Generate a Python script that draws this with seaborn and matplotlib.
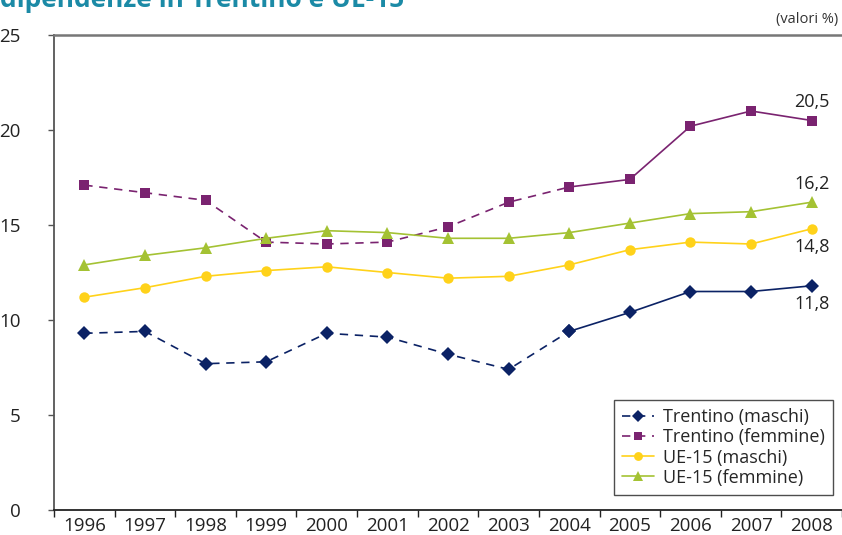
import numpy as np
import pandas as pd
import matplotlib
matplotlib.use("Agg")
import matplotlib.pyplot as plt
import seaborn as sns

years = [1996, 1997, 1998, 1999, 2000, 2001, 2002, 2003, 2004, 2005, 2006, 2007, 2008]
trentino_maschi = [9.3, 9.4, 7.7, 7.8, 9.3, 9.1, 8.2, 7.4, 9.4, 10.4, 11.5, 11.5, 11.8]
trentino_femmine = [17.1, 16.7, 16.3, 14.1, 14.0, 14.1, 14.9, 16.2, 17.0, 17.4, 20.2, 21.0, 20.5]
ue_maschi = [11.2, 11.7, 12.3, 12.6, 12.8, 12.5, 12.2, 12.3, 12.9, 13.7, 14.1, 14.0, 14.8]
ue_femmine = [12.9, 13.4, 13.8, 14.3, 14.7, 14.6, 14.3, 14.3, 14.6, 15.1, 15.6, 15.7, 16.2]
end_labels = ["11,8", "20,5", "14,8", "16,2"]
y_ticks = [0, 5, 10, 15, 20, 25]

sns.set_theme(style="white")
plt.rcParams["font.family"] = ["Open Sans", "DejaVu Sans"]

series = [
    ("Trentino (maschi)", trentino_maschi, "#0B2265", "D", 7, True),
    ("Trentino (femmine)", trentino_femmine, "#7A2370", "s", 7.5, True),
    ("UE-15 (maschi)", ue_maschi, "#FFD21A", "o", 7.5, False),
    ("UE-15 (femmine)", ue_femmine, "#A4C233", "^", 9, False),
]
label_offsets = [-13, 13, -13, 13]

fig = plt.figure(figsize=(8.42, 5.35), dpi=100)
ax = fig.add_axes([54 / 842, 25 / 535, 788 / 842, 475 / 535])

df = pd.DataFrame({"year": years})
split = years.index(2004)
handles = []
for (name, vals, color, marker, ms, dashed), lab, off in zip(series, end_labels, label_offsets):
    df[name] = vals
    if dashed:
        first = df.iloc[: split + 1]
        second = df.iloc[split:]
        sns.lineplot(data=first, x="year", y=name, ax=ax, color=color, marker=marker,
                     markersize=ms, markeredgewidth=0, linewidth=1.2,
                     dashes=False, linestyle=(0, (5, 4)))
        h = ax.lines[-1]
        sns.lineplot(data=second, x="year", y=name, ax=ax, color=color, marker=marker,
                     markersize=ms, markeredgewidth=0, linewidth=1.2)
    else:
        sns.lineplot(data=df, x="year", y=name, ax=ax, color=color, marker=marker,
                     markersize=ms, markeredgewidth=0, linewidth=1.2)
        h = ax.lines[-1]
    handles.append((h, name))
    ax.annotate(lab, (years[-1], vals[-1]), xytext=(0, off), textcoords="offset points",
                ha="center", va="center", fontsize=13, color="#222222")

ax.set_xlim(years[0] - 0.5, years[-1] + 0.5)
ax.set_ylim(0, 25)
ax.set_yticks(y_ticks)
ax.set_xticks(years)
ax.set_xticks(np.arange(years[0] - 0.5, years[-1] + 1, 1), minor=True)
ax.set_xlabel("")
ax.set_ylabel("")
ax.tick_params(axis="x", which="major", length=0, pad=5, labelsize=13.5, labelcolor="#222222")
ax.tick_params(axis="x", which="minor", length=5, direction="out", color="#222222", width=1, bottom=True)
ax.tick_params(axis="y", length=4, direction="out", color="#555555", width=1, left=True,
               pad=20, labelsize=13.5, labelcolor="#222222")

for side in ["left", "bottom", "top"]:
    ax.spines[side].set_visible(True)
ax.spines["left"].set_color("#555555")
ax.spines["left"].set_linewidth(1.3)
ax.spines["bottom"].set_color("#222222")
ax.spines["bottom"].set_linewidth(1.3)
ax.spines["top"].set_color("#777777")
ax.spines["top"].set_linewidth(1.8)
ax.spines["right"].set_visible(False)

leg = ax.legend([h for h, _ in handles], [n for _, n in handles], loc="lower right",
                bbox_to_anchor=(0.989, 0.032), borderaxespad=0, frameon=True, fancybox=False,
                fontsize=13, labelspacing=0.12, handlelength=1.8, handletextpad=0.5,
                borderpad=0.45, markerscale=0.85)
leg.get_frame().set_edgecolor("#222222")
leg.get_frame().set_linewidth(1.0)

fig.text(0.0, 1 - 7 / 535, "dipendenze in Trentino e UE-15", ha="left", va="baseline",
         fontsize=19, fontweight="bold", color="#1B8AA6")
fig.text(0.995, 1 - 19 / 535, "(valori %)", ha="right", va="center", fontsize=10.5,
         color="#333333")

fig.savefig("out.png", dpi=100)
